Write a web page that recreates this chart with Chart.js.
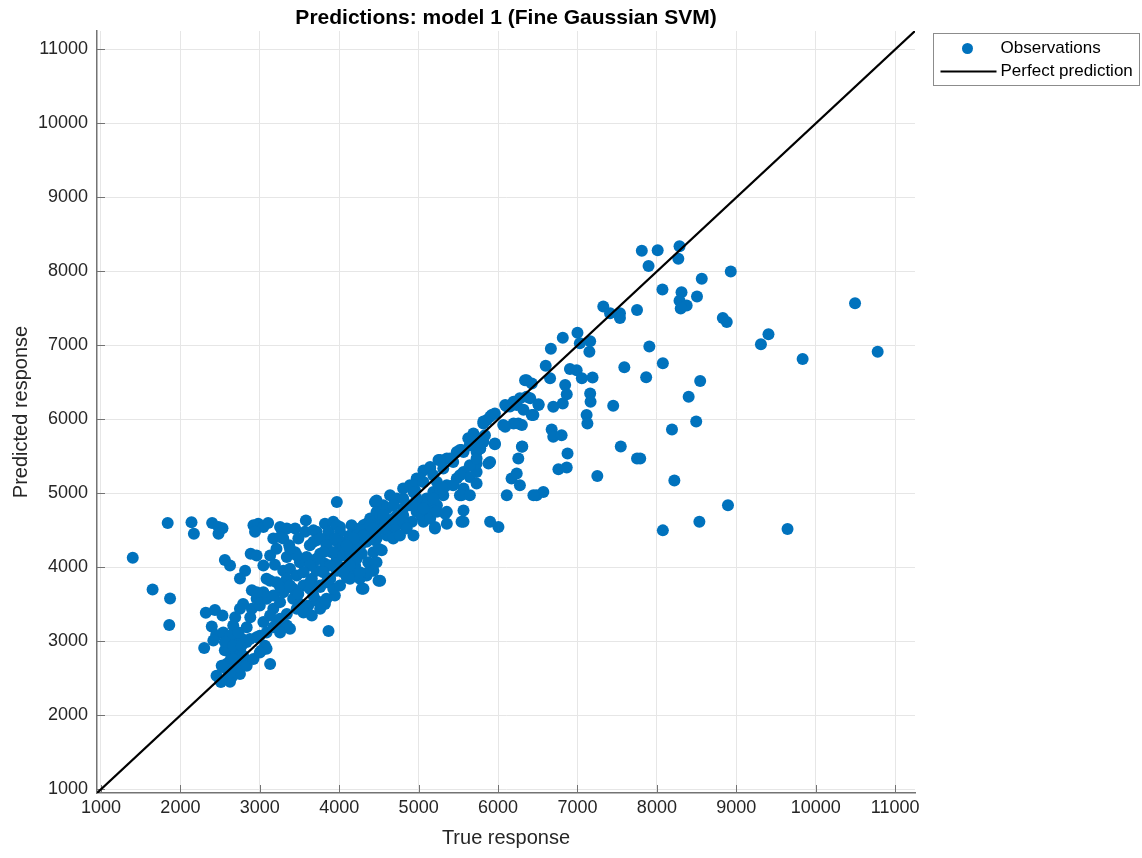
<!DOCTYPE html>
<html>
<head>
<meta charset="utf-8">
<script src="https://cdn.jsdelivr.net/npm/chart.js@4/dist/chart.umd.min.js"></script>
<style>
  html, body { margin: 0; padding: 0; background: #fff; }
  #wrap { width: 1142px; height: 858px; }
</style>
</head>
<body>
<div id="wrap"><canvas id="pred-canvas"></canvas></div>
<script>
// [true, predicted] pairs, grouped by where they sit in the plot
const lowCluster = [
  [1400,4130],[1650,3700],[1870,3580],[1860,3220],[1840,4600],[2140,4610],[2170,4455],
  [2400,4600],[2480,4545],[2530,4530],[2480,4455],[2560,4100],[2625,4025],[2885,4185],
  [2815,3955],[2750,3850],[2320,3385],[2435,3425],[2530,3350],[2395,3200],[2450,3085],
  [2415,3010],[2300,2910],[2580,3030],[2625,2940],[2690,3080],[2750,2875],[2835,2990],
  [2665,2850],[3065,2940],[3020,2875],[2960,3055],[3130,2695],[2500,2470],[2580,2490],
  [2605,2580],[2710,2625],[2750,2560],[2835,2715],[2540,2650],[2625,2455],[2510,2450],
  [2650,2520],[2665,3215],[2835,3190],[2690,3325],[2790,3505],[2900,3440],[3000,3485],
  [3085,3575],[3170,3440],[3255,3530],[3340,3370],[3465,3440],[3610,3485],[3715,3550],
  [3840,3575],[3945,3620],[3045,3260],[3210,3235],[3340,3215],[3255,3120],[3380,3170],
  [3550,3390],[3655,3350],[3820,3505],[3865,3140],[2600,2960],[2660,3000],[2720,2930],
  [2560,2880],[2780,3030],[2640,2780],[2700,2720],[2590,2700],[2750,3440],[2880,3325],
  [2960,3575],[3130,3350],[3255,3305],[3420,3575],[3505,3505],[3170,3620],[3295,3665],
  [3675,3620],[3760,3440],[2540,3120],[2625,3075],[2730,3120],[2560,2990],[2665,2940],
  [2770,2940],[2875,3030],[3000,3075],[3085,3120],[3170,3190],[2665,2760],[2790,2805],
  [2520,2670],[2625,2580],[2835,2670],[2920,2760],[3085,2900],[3000,2850],[2455,2535]
];

const upperBand = [
  [2920,4570],[2980,4590],[3045,4545],[2940,4480],[3105,4600],[3255,4545],[3340,4525],
  [3445,4525],[3580,4635],[3570,4480],[3675,4500],[3715,4480],[3820,4590],[3925,4615],
  [3865,4480],[4010,4545],[4155,4570],[4260,4525],[4345,4590],[4410,4660],[4470,4545],
  [3970,4885],[4450,4885],[3170,4390],[3370,4300],[3630,4300],[3840,4345],[3945,4365],
  [4075,4345],[4180,4430],[4345,4345],[4450,4365],[4430,4205],[3505,4070],[3590,4140],
  [3760,4185],[3820,4050],[3905,4205],[3970,4115],[4095,4160],[4180,4070],[4285,4185],
  [4365,4070],[4495,4250],[3190,4035],[3130,3820],[2900,3690],[3045,3665],[3295,3955],
  [3380,3980],[3465,3890],[3340,3845],[3255,3735],[3420,3710],[3550,3755],[3655,3845],
  [3715,3955],[3840,3800],[3925,3710],[4010,3755],[4095,3865],[4180,3935],[4285,3710],
  [4345,3890],[4495,3820],[4135,3845],[4515,3820],[4305,3710],[3255,4410],[3485,4390],
  [3715,4365],[4010,4275],[4260,4275],[3340,4140],[3445,4205],[3675,4070],[4010,4005],
  [4200,4025],[4470,4070],[2960,3665],[3085,3845],[3210,3800],[3380,3755],[3485,3640],
  [3630,3710],[3760,3735],[3885,3845],[3970,3955],[4260,3845],[4430,3955],[3675,4345],
  [3760,4390],[3840,4295],[3925,4205],[3800,4205],[3715,4115],[3630,4025],[3550,3935],
  [3465,4160],[3380,4250],[3295,4390],[3210,4250],[3130,4160],[3045,4025],[2960,4160],
  [3630,3800],[3760,3755],[4050,4160],[4180,4250],[4345,4390],[4470,4390]
];

const midBand = [
  [4470,4750],[4640,4975],[4555,4840],[4390,4660],[4305,4570],[4725,4930],[4805,5065],
  [4890,5110],[4975,5200],[5060,5310],[5145,5355],[5250,5450],[5355,5470],[5520,5585],
  [5625,5745],[5690,5810],[5815,5945],[5855,5990],[4890,4840],[4975,4750],[5100,4930],
  [5185,5020],[5310,4975],[5145,4750],[5230,4840],[5355,5110],[5480,5200],[5565,5290],
  [5730,5290],[5520,4975],[5355,4750],[5565,4615],[5355,4590],[5205,4545],[5040,4680],
  [4915,4615],[4935,4430],[4680,4480],[4535,4230],[4365,3935],[5900,5425],[5730,5560],
  [5815,5695],[5565,5065],[4725,4705],[4600,4570],[4470,4480],[4390,4390],[4220,4300],
  [4095,4205],[3885,4025],[3800,3935],[4010,4345],[4135,4430],[4285,4500],[4430,4615],
  [4515,4705],[4805,4795],[4600,4795],[4220,4115],[4135,4025],[4050,3935],[3885,3845],
  [4260,3935],[3970,4570],[4010,4480],[3945,4390],[4050,4300],[4220,4430],[4390,4570],
  [4555,4660],[4390,4430],[4260,4300],[4135,4205],[4600,4430],[4680,4390],[4725,4570],
  [4805,4615],[4850,4525],[4765,4430],[5015,4840],[5100,4885],[5270,5020],[5060,4615],
  [5145,4660],[5230,4750],[5335,4725],[4955,5040],[5205,4525],[5540,4615],[5565,4770],
  [5540,4975],[5900,4615],[6005,4545],[6110,4975],[6170,5200],[6235,5270],[6275,5110],
  [6485,4975],[6570,5020],[6300,5630],[5960,5675],[5645,5220],[5775,5605],[5645,5650],
  [5540,5585],[5480,5560],[5395,5470],[5270,5450],[5145,5335],[5015,5200],[4935,5110],
  [5230,5155],[4975,4930],[5730,5405],[5730,5135],[5645,4975],[5880,5405],[6445,4975],
  [4555,4525],[4680,4660],[4805,4705],[4935,4840],[5060,4795],[5185,4930],[5310,5065],
  [5435,5110],[5520,5245],[5645,5380],[5730,5470],[5775,5605],[5835,5785],[5750,5745],
  [5645,5650],[5565,5560],[5435,5425],[5310,5335],[5185,5245],[5060,5155],[4935,5020],
  [4805,4930],[4680,4840],[4555,4705],[4430,4525],[4305,4430],[4180,4390],[4095,4295],
  [4470,4905]
];

const upperTail = [
  [6090,6195],[6150,6175],[6235,6195],[6360,6305],[6510,6195],[6445,6060],[6320,6130],
  [6360,6530],[5920,6060],[5815,5970],[6065,5925],[6255,5945],[6300,5925],[5730,5695],
  [5900,6035],[5960,6080],[6110,6175],[6195,6240],[6275,6285],[6340,6530],[6405,6285],
  [5960,5665],[6195,5945],[6090,5900],[6255,5470],[7325,7525],[7410,7435],[7535,7435],
  [7535,7370],[7750,7480],[6815,7105],[7000,7170],[7160,7055],[7030,7030],[7150,6915],
  [6665,6955],[6600,6725],[6655,6555],[6425,6485],[6905,6680],[6990,6665],[7055,6555],
  [7190,6565],[7590,6705],[6845,6465],[6865,6340],[6815,6215],[6695,6170],[6510,6205],
  [6425,6060],[7160,6350],[7165,6240],[7450,6185],[7115,6060],[7125,5945],[6675,5865],
  [6695,5765],[6800,5785],[6305,5635],[6875,5540],[6760,5325],[6865,5350],[7250,5235],
  [7545,5635],[7750,5470],[7810,8280],[8010,8285],[8285,8340],[7895,8075],[8270,8170],
  [8930,8000],[8565,7900],[8070,7755],[8310,7720],[8285,7605],[8375,7540],[8300,7500],
  [8505,7660],[8830,7370],[8880,7315],[10495,7570],[9405,7150],[9310,7015],[10780,6915],
  [9835,6815],[7905,6985],[8075,6760],[7865,6570],[8545,6520],[8400,6305],[8495,5970],
  [8190,5865],[7790,5470],[8220,5175],[8895,4840],[8535,4615],[9645,4520],[8075,4500]
];

const axisLimits = [950, 11250];
const tickValues = [1000, 2000, 3000, 4000, 5000, 6000, 7000, 8000, 9000, 10000, 11000];

const titleText = 'Predictions: model 1 (Fine Gaussian SVM)';
const legendLabels = ['Observations', 'Perfect prediction'];

const obsColor = '#0072BD';
const fontFamily = '"Liberation Sans", Arial, Helvetica, sans-serif';
const axisColor = '#737373';

const observations = [...lowCluster, ...upperBand, ...midBand, ...upperTail]
  .map(([x, y]) => ({ x: x, y: y }));
const perfectLine = axisLimits.map(v => ({ x: v, y: v }));

// title, inward tick marks and the boxed legend, drawn MATLAB style
const matlabDecor = {
  id: 'matlabDecor',
  beforeDatasetsDraw(chart) {
    const { ctx, chartArea, scales } = chart;
    ctx.save();
    ctx.strokeStyle = axisColor;
    ctx.lineWidth = 1;
    ctx.beginPath();
    tickValues.forEach(v => {
      const px = Math.round(scales.x.getPixelForValue(v)) + 0.5;
      ctx.moveTo(px, chartArea.bottom);
      ctx.lineTo(px, chartArea.bottom - 8);
      const py = Math.round(scales.y.getPixelForValue(v)) + 0.5;
      ctx.moveTo(chartArea.left, py);
      ctx.lineTo(chartArea.left + 8, py);
    });
    ctx.stroke();
    ctx.restore();
  },
  afterDraw(chart) {
    const { ctx, chartArea } = chart;
    ctx.save();
    ctx.fillStyle = '#000';
    ctx.font = 'bold 21px ' + fontFamily;
    ctx.textAlign = 'center';
    ctx.textBaseline = 'middle';
    ctx.fillText(titleText, (chartArea.left + chartArea.right) / 2, 18);

    // legend box
    const lx = chartArea.right + 18.5, ly = 33.5, lw = 206, lh = 52;
    ctx.fillStyle = '#fff';
    ctx.fillRect(lx, ly, lw, lh);
    ctx.strokeStyle = '#8c8c8c';
    ctx.lineWidth = 1;
    ctx.strokeRect(lx, ly, lw, lh);

    ctx.fillStyle = obsColor;
    ctx.beginPath();
    ctx.arc(lx + 34, ly + 15, 5.5, 0, Math.PI * 2);
    ctx.fill();

    ctx.strokeStyle = '#000';
    ctx.lineWidth = 2;
    ctx.beginPath();
    ctx.moveTo(lx + 7, ly + 38);
    ctx.lineTo(lx + 63, ly + 38);
    ctx.stroke();

    ctx.fillStyle = '#000';
    ctx.font = '17px ' + fontFamily;
    ctx.textAlign = 'left';
    ctx.fillText(legendLabels[0], lx + 67, ly + 15);
    ctx.fillText(legendLabels[1], lx + 67, ly + 38);
    ctx.restore();
  }
};

const pred_config = {
  type: 'scatter',
  data: {
    datasets: [
      {
        label: legendLabels[1],
        data: perfectLine,
        showLine: true,
        borderColor: '#000',
        borderWidth: 2.2,
        pointRadius: 0,
        order: 0
      },
      {
        label: legendLabels[0],
        data: observations,
        backgroundColor: obsColor,
        borderWidth: 0,
        pointRadius: 6,
        order: 1
      }
    ]
  },
  options: {
    responsive: true,
    maintainAspectRatio: false,
    animation: false,
    layout: { padding: { top: 31, right: 227, left: 0, bottom: 0 } },
    plugins: {
      legend: { display: false },
      title: { display: false },
      tooltip: { enabled: false }
    },
    scales: {
      x: {
        type: 'linear',
        min: axisLimits[0],
        max: axisLimits[1],
        afterFit: scale => { scale.height = 65; },
        afterBuildTicks: scale => { scale.ticks = tickValues.map(v => ({ value: v })); },
        ticks: {
          padding: 4,
          color: '#262626',
          font: { family: fontFamily, size: 18 },
          maxRotation: 0,
          callback: v => String(v)
        },
        grid: { color: '#e6e6e6', lineWidth: 1, drawTicks: false },
        border: { color: axisColor, width: 1.5 },
        title: {
          display: true,
          text: 'True response',
          color: '#262626',
          font: { family: fontFamily, size: 20 },
          padding: { top: 0, bottom: 8 }
        }
      },
      y: {
        type: 'linear',
        min: axisLimits[0],
        max: axisLimits[1],
        afterFit: scale => { scale.width = 97; },
        afterBuildTicks: scale => { scale.ticks = tickValues.map(v => ({ value: v })); },
        ticks: {
          padding: 9,
          color: '#262626',
          font: { family: fontFamily, size: 18 },
          callback: v => String(v)
        },
        grid: { color: '#e6e6e6', lineWidth: 1, drawTicks: false },
        border: { color: axisColor, width: 1.5 },
        title: {
          display: true,
          text: 'Predicted response',
          color: '#262626',
          font: { family: fontFamily, size: 20 },
          padding: { top: 9, bottom: 0 }
        }
      }
    }
  },
  plugins: [matlabDecor]
};

const pred_ctx = document.getElementById('pred-canvas');
new Chart(pred_ctx, pred_config);
</script>
</body>
</html>
